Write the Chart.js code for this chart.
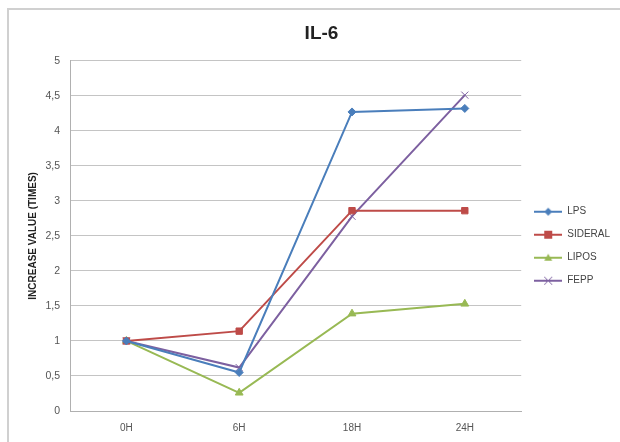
<!DOCTYPE html>
<html lang="en">
<head>
  <meta charset="UTF-8" />
  <title>IL-6</title>
  <script src="https://cdn.jsdelivr.net/npm/chart.js"></script>
  <style>
    body { margin: 0; background: #fff; }
    #wrap { position: relative; width: 620px; height: 442px; }
    #frame { position: absolute; left: 7px; top: 8px; right: -10px; bottom: -10px;
             border-left: 2px solid #d0d0d0; border-top: 2px solid #d0d0d0; }
    canvas { position: absolute; left: 0; top: 0; }
  </style>
</head>
<body>
<div id="wrap">
  <div id="frame"></div>
  <canvas id="il6" width="620" height="442"></canvas>
</div>
<script>
  const hours = ['0H', '6H', '18H', '24H'];
  const lps = [1, 0.55, 4.27, 4.32];
  const sideral = [1, 1.14, 2.86, 2.86];
  const lipos = [1, 0.26, 1.39, 1.53];
  const fepp = [1, 0.62, 2.78, 4.51];

  // legend icon: short line with the marker in the middle
  function legendIcon(color, style) {
    const c = document.createElement('canvas');
    c.width = 28; c.height = 10;
    const g = c.getContext('2d');
    g.strokeStyle = color; g.fillStyle = color; g.lineWidth = 2;
    g.beginPath(); g.moveTo(0, 5); g.lineTo(28, 5); g.stroke();
    g.beginPath();
    if (style === 'rectRot') { g.moveTo(14, 1); g.lineTo(18, 5); g.lineTo(14, 9); g.lineTo(10, 5); g.fill(); }
    if (style === 'rect') { g.fillRect(10, 1, 8, 8); }
    if (style === 'triangle') { g.moveTo(14, 1); g.lineTo(18, 8); g.lineTo(10, 8); g.fill(); }
    if (style === 'crossRot') { g.lineWidth = 1; g.moveTo(10, 1); g.lineTo(18, 9); g.moveTo(18, 1); g.lineTo(10, 9); g.stroke(); }
    return c;
  }

  function series(label, data, color, style, radius) {
    return {
      label, data,
      borderColor: color, backgroundColor: color,
      borderWidth: 2,
      pointStyle: style, pointRadius: radius,
      pointBorderColor: color, pointBackgroundColor: color,
      pointBorderWidth: 1,
      tension: 0,
      icon: legendIcon(color, style)
    };
  }

  const font = 'Liberation Sans, Arial, sans-serif';

  new Chart(document.getElementById('il6'), {
    type: 'line',
    data: {
      labels: hours,
      datasets: [
        series('LPS', lps, '#4a7ebb', 'rectRot', 4),
        series('SIDERAL', sideral, '#be4b48', 'rect', 4.5),
        series('LIPOS', lipos, '#98b954', 'triangle', 4.5),
        series('FEPP', fepp, '#7d60a0', 'crossRot', 5)
      ]
    },
    options: {
      responsive: false,
      animation: false,
      layout: { padding: { left: 23, right: 0, top: 0, bottom: 0 } },
      plugins: {
        title: {
          display: true, text: 'IL-6', color: '#222',
          font: { family: font, size: 19, weight: 'bold' },
          padding: { top: 22, bottom: 16 }
        },
        legend: {
          position: 'right',
          title: { display: true, text: '', padding: 18 },
          labels: {
            color: '#444',
            font: { family: font, size: 10 },
            usePointStyle: true,
            pointStyleWidth: 28,
            boxHeight: 10,
            padding: 13,
            generateLabels(chart) {
              return chart.data.datasets.map((ds, i) => ({
                text: ds.label, pointStyle: ds.icon, fontColor: '#444',
                strokeStyle: ds.borderColor, fillStyle: ds.borderColor,
                lineWidth: 0, datasetIndex: i, hidden: false
              }));
            }
          }
        },
        tooltip: { enabled: false }
      },
      scales: {
        x: {
          offset: true,
          grid: { display: false, drawTicks: false },
          border: { color: '#b0b0b0' },
          ticks: { color: '#555', font: { family: font, size: 10 }, padding: 11 },
          afterFit(scale) { scale.height = 31; }
        },
        y: {
          min: 0, max: 5,
          grid: { color: '#c4c4c4', drawTicks: false },
          border: { color: '#b0b0b0' },
          ticks: {
            stepSize: 0.5, color: '#555', padding: 10,
            font: { family: font, size: 10.5 },
            callback: v => String(v).replace('.', ',')
          },
          title: {
            display: true, text: 'INCREASE VALUE (TIMES)', color: '#222',
            font: { family: font, size: 10, weight: 'bold' }
          },
          afterFit(scale) { scale.width = 47; }
        }
      }
    }
  });
</script>
</body>
</html>
